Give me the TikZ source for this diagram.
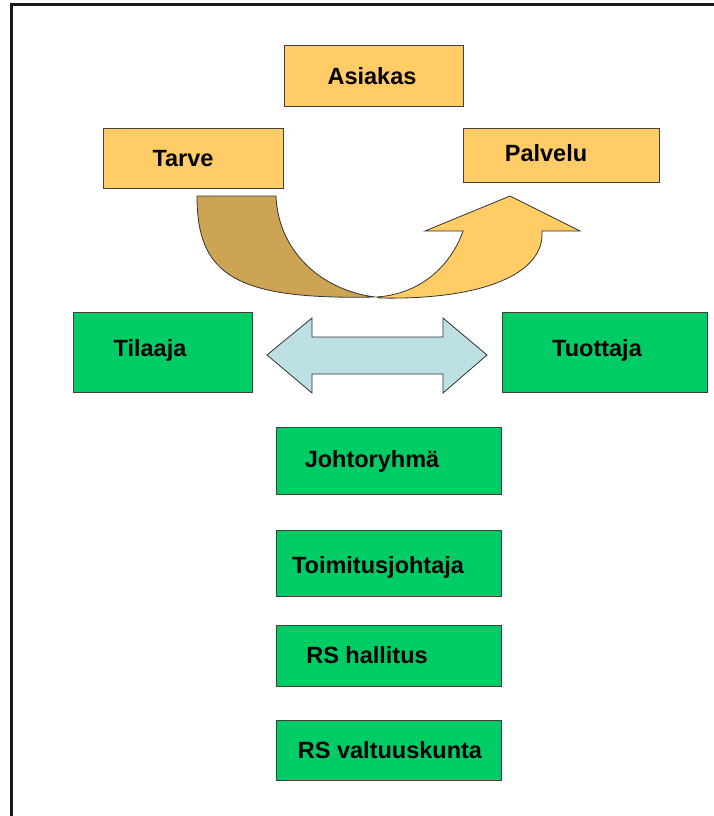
\documentclass[tikz,border=0pt]{standalone}
\usepackage{fontspec}
\setmainfont{Liberation Sans}
\definecolor{lorange}{HTML}{FFCC66}
\definecolor{dorange}{HTML}{CDA453}
\definecolor{boxgreen}{HTML}{00CC66}
\definecolor{lblue}{HTML}{BCE0E3}
\definecolor{edgegray}{HTML}{404040}
\begin{document}
\begin{tikzpicture}[x=1pt,y=-1pt,
  obox/.style={draw=edgegray,line width=1pt,fill=lorange},
  gbox/.style={draw=edgegray,line width=1pt,fill=boxgreen},
  lbl/.style={font=\bfseries\fontsize{23.5}{27}\selectfont,inner sep=0pt}]
\useasboundingbox (0,0) rectangle (714,816);
% frame
\draw[line width=3pt,color=black!90] (11,816) -- (11,5) -- (714,5);
% orange boxes
\draw[obox] (284,46) rectangle (463,106);
\node[lbl] (asiakas) at (372,76) {Asiakas};
\draw[obox] (103,128) rectangle (283,188);
\node[lbl] (tarve) at (183,159) {Tarve};
\draw[obox] (463,128) rectangle (659,182);
\node[lbl] (palvelu) at (546,153) {Palvelu};
% curved arrow, dark part
\draw[fill=dorange,draw=black!80,line width=0.8pt]
  (197,196) -- (276,196)
  .. controls (278,250) and (320,290) .. (375,297)
  .. controls (235,300) and (197,275) .. (197,196) -- cycle;
% curved arrow, light part
\draw[fill=lorange,draw=black!80,line width=0.8pt]
  (377,297) .. controls (430,293) and (455,255) .. (463,231)
  -- (425,231) -- (510,196) -- (580,231) -- (542,231)
  .. controls (545,275) and (480,300) .. (380,298) -- cycle;
% green boxes
\draw[gbox] (73,312) rectangle (252,392);
\node[lbl] (tilaaja) at (150,350) {Tilaaja};
\draw[gbox] (502,312) rectangle (707,392);
\node[lbl] (tuottaja) at (597,350) {Tuottaja};
% double arrow
\draw[fill=lblue,draw=black!80,line width=0.8pt]
  (267,355) -- (312,318) -- (312,337) -- (443,337) -- (443,318) -- (487,355)
  -- (443,393) -- (443,374) -- (312,374) -- (312,393) -- cycle;
\draw[gbox] (276,427) rectangle (501,494);
\node[lbl] (johto) at (372,461) {Johtoryhmä};
\draw[gbox] (276,530) rectangle (501,596);
\node[lbl] (toimitus) at (378,567) {Toimitusjohtaja};
\draw[gbox] (276,625) rectangle (501,686);
\node[lbl] (hallitus) at (367,655) {RS hallitus};
\draw[gbox] (276,720) rectangle (501,780);
\node[lbl] (valtuusto) at (390,750) {RS valtuuskunta};
\end{tikzpicture}
\end{document}
